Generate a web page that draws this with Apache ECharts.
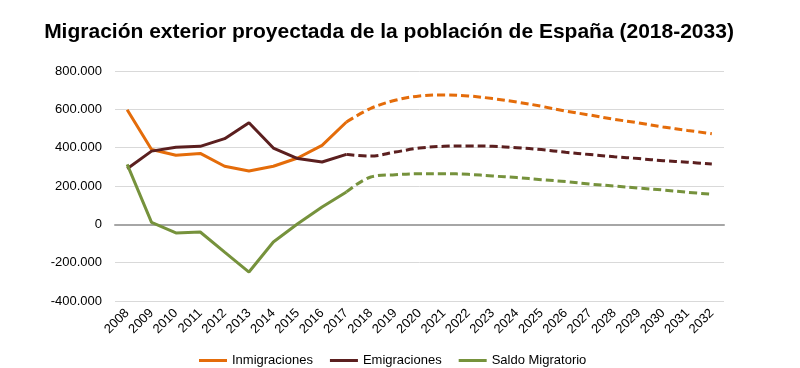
<!DOCTYPE html>
<html><head><meta charset="utf-8">
<script src="https://cdn.jsdelivr.net/npm/echarts@6/dist/echarts.min.js"></script>
<style>html,body{margin:0;padding:0;background:#fff}#c{width:800px;height:368px}</style>
</head><body><div id="c"></div>
<script>
const years = ['2008','2009','2010','2011','2012','2013','2014','2015','2016','2017','2018','2019','2020','2021','2022','2023','2024','2025','2026','2027','2028','2029','2030','2031','2032'];
const inmigraciones = [598000,390000,360000,370000,303000,278000,303000,346000,412000,534000,605000,647000,670000,675000,670000,656000,638000,616000,591000,570000,548000,529000,508000,490000,473000];
const emigraciones = [290000,382000,402000,407000,447000,530000,398000,343000,325000,365000,356000,377000,398000,407000,409000,407000,400000,390000,376000,364000,353000,343000,332000,324000,315000];
const saldo = [313000,10000,-45000,-40000,-145000,-249000,-92000,3000,90000,169000,247000,259000,264000,264000,261000,252000,244000,233000,223000,210000,200000,189000,179000,167000,157000];
const lastObserved = '2017';
const yTicks = {min:-400000, max:800000, interval:200000};

const cut = years.indexOf(lastObserved);
const hist = a => a.map((v,i)=> i<=cut ? v : null);
const proj = a => a.map((v,i)=> i>=cut ? v : null);
const colors = {inm:'#E46C0A', emi:'#5B1F1F', sal:'#76923C'};
const fmt = v => v===0 ? '0' : (v<0?'-':'') + String(Math.abs(v)).replace(/\B(?=(\d{3})+(?!\d))/g,'.');
const FF = 'Liberation Sans, Arial, sans-serif';

function mk(name, data, color, dashed){
  return {name:name, type:'line', data:data, symbol:'none', smooth: dashed ? 0.35 : false,
    connectNulls:false,
    lineStyle:{color:color, width:3, type: dashed ? [8,4] : 'solid', cap: 'butt'},
    itemStyle:{color:color}, z: dashed?2:3};
}
const chart = echarts.init(document.getElementById('c'), null, {renderer:'canvas'});
chart.setOption({
  animation:false,
  backgroundColor:'#fff',
  title:{text:'Migración exterior proyectada de la población de España (2018-2033)', left:384, textAlign:'center', top:17,
    textStyle:{fontFamily:FF, fontSize:21, fontWeight:'bold', color:'#000'}},
  legend:{data:['Inmigraciones','Emigraciones','Saldo Migratorio'], top:349, left:194, itemWidth:28, itemHeight:3, itemGap:17,
    icon:'rect',
    textStyle:{fontFamily:FF, fontSize:13, color:'#000'}},
  grid:{left:115, right:76, top:71, bottom:67, containLabel:false},
  xAxis:{type:'category', data:years, boundaryGap:true,
    axisLine:{onZero:true, lineStyle:{color:'#a6a6a6', width:2}},
    axisTick:{show:false},
    axisLabel:{rotate:45, interval:0, fontFamily:FF, fontSize:13, color:'#000', margin:10},
    },
  yAxis:{type:'value', min:yTicks.min, max:yTicks.max, interval:yTicks.interval,
    axisLine:{show:false}, axisTick:{show:false},
    splitLine:{lineStyle:{color:'#d9d9d9', width:1}},
    axisLabel:{formatter:fmt, fontFamily:FF, fontSize:13, color:'#000', margin:13}},
  series:[
    mk('Inmigraciones', hist(inmigraciones), colors.inm, false),
    mk('Emigraciones', hist(emigraciones), colors.emi, false),
    mk('Saldo Migratorio', hist(saldo), colors.sal, false),
    mk('Inmigraciones', proj(inmigraciones), colors.inm, true),
    mk('Emigraciones', proj(emigraciones), colors.emi, true),
    mk('Saldo Migratorio', proj(saldo), colors.sal, true)
  ]
});
</script></body></html>
